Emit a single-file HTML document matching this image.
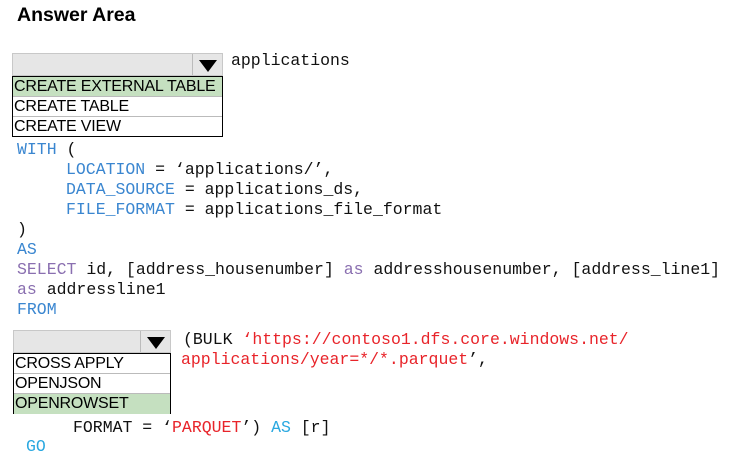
<!DOCTYPE html>
<html><head><style>
body{margin:0;width:748px;height:462px;background:#fff;position:relative;overflow:hidden;font-family:"Liberation Mono",monospace}
.l{position:absolute;font-size:16.5px;line-height:20px;white-space:pre;color:#111}
.k{color:#3a86d0}.p{color:#8a6fb0}.s{color:#e8242a}.g{color:#2aa8e0}
.dd{position:absolute;background:#e6e6e6;border:1px solid #c8c8c8;box-sizing:border-box}
.ar{position:absolute;top:0;right:0;height:100%;border-left:1px solid #bbb;box-sizing:border-box}
.tri{position:absolute;left:50%;top:6px;margin-left:-9px;width:0;height:0;border-left:9px solid transparent;border-right:9px solid transparent;border-top:12px solid #000}
.list{position:absolute;border:1px solid #000;box-sizing:border-box;font-family:"Liberation Sans",sans-serif;font-size:16px}
.list div{height:20px;line-height:20px;padding-left:1px;border-bottom:1px solid #bbb;box-sizing:border-box;letter-spacing:-0.2px}
.list div:last-child{border-bottom:none}
.sel{background:#c5e0c0}
</style></head><body>
<div style="position:absolute;left:17px;top:4px;font-family:'Liberation Sans',sans-serif;font-weight:bold;font-size:19.5px">Answer Area</div>

<div class="dd" style="left:12px;top:53px;width:211px;height:23px"><div class="ar" style="width:30px"><div class="tri"></div></div></div>
<div class="l" style="left:231px;top:51px">applications</div>
<div class="list" style="left:12px;top:76px;width:211px;height:61px"><div class="sel">CREATE EXTERNAL TABLE</div><div>CREATE TABLE</div><div>CREATE VIEW</div></div>

<div class="l" style="left:17px;top:140px"><span class="k">WITH</span> (</div>
<div class="l" style="left:66px;top:160px"><span class="k">LOCATION</span> = ‘applications/’,</div>
<div class="l" style="left:66px;top:180px"><span class="k">DATA_SOURCE</span> = applications_ds,</div>
<div class="l" style="left:66px;top:200px"><span class="k">FILE_FORMAT</span> = applications_file_format</div>
<div class="l" style="left:17px;top:220px">)</div>
<div class="l" style="left:17px;top:240px"><span class="k">AS</span></div>
<div class="l" style="left:17px;top:260px"><span class="p">SELECT</span> id, [address_housenumber] <span class="p">as</span> addresshousenumber, [address_line1]</div>
<div class="l" style="left:17px;top:280px"><span class="p">as</span> addressline1</div>
<div class="l" style="left:17px;top:300px"><span class="k">FROM</span></div>

<div class="dd" style="left:13px;top:330px;width:158px;height:23px"><div class="ar" style="width:30px"><div class="tri"></div></div></div>
<div class="list" style="left:13px;top:353px;width:158px;height:61px"><div>CROSS APPLY</div><div>OPENJSON</div><div class="sel">OPENROWSET</div></div>
<div class="l" style="left:183px;top:330px">(BULK <span class="s">‘https://contoso1.dfs.core.windows.net/</span></div>
<div class="l" style="left:181px;top:350px"><span class="s">applications/year=*/*.parquet</span>’,</div>
<div class="l" style="left:73px;top:418px">FORMAT = ‘<span class="s">PARQUET</span>’) <span class="g">AS</span> [r]</div>
<div class="l" style="left:26px;top:437px"><span class="g">GO</span></div>
</body></html>
